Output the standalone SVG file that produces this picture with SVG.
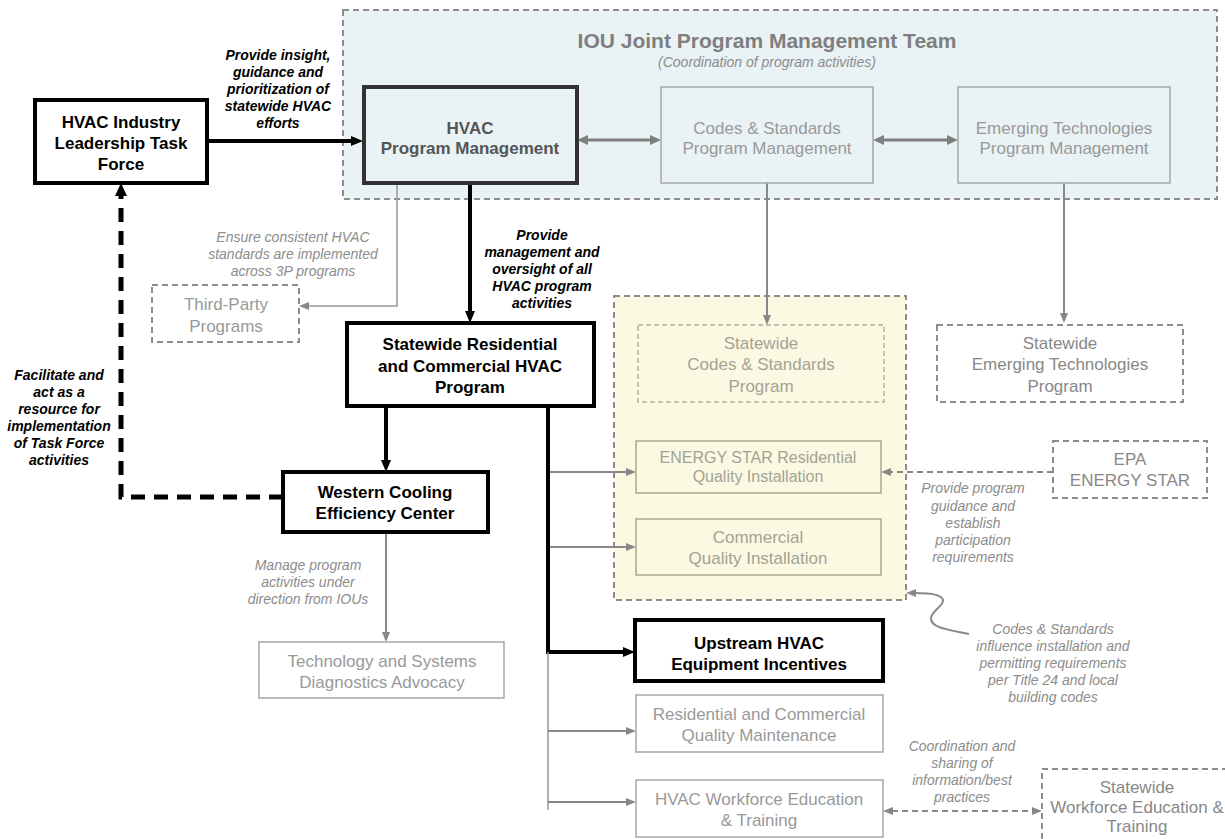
<svg xmlns="http://www.w3.org/2000/svg" width="1225" height="839" viewBox="0 0 1225 839">
<style>
  text { font-family: "Liberation Sans", Arial, sans-serif; text-anchor: middle; }
  .bold { font-weight: bold; font-size: 17px; fill: #000; }
  .hvacpm { font-weight: bold; font-size: 17px; fill: #555; }
  .gray { font-size: 17px; fill: #999; }
  .gray2 { font-size: 17px; fill: #888; }
  .olive { font-size: 17px; fill: #a3a394; }
  .olive16 { font-size: 16px; fill: #a3a394; }
  .lblb { font-weight: bold; font-style: italic; font-size: 14px; fill: #000; }
  .lblg { font-style: italic; font-size: 14px; fill: #8c8c8c; }
  .title { font-weight: bold; font-size: 21px; fill: #7f7f7f; }
  .sub { font-style: italic; font-size: 14px; fill: #8c8c8c; }
  .nodeB { fill: #fff; stroke: #000; stroke-width: 4; }
  .nodeG { fill: #fff; stroke: #a6a6a6; stroke-width: 1.5; }
  .nodeGD { fill: #fff; stroke: #8c8c8c; stroke-width: 2; stroke-dasharray: 6 4; }
  .panelBlue { fill: #e9f2f4; stroke: #8c8c8c; stroke-width: 2; stroke-dasharray: 6 4; }
  .panelYel { fill: #fcf9e3; stroke: #8c8c8c; stroke-width: 2; stroke-dasharray: 6 4; }
  .boxTop { fill: #e9f2f4; stroke: #a6a6a6; stroke-width: 1.5; }
  .boxYel { fill: #fcf9e3; stroke: #a8a890; stroke-width: 1.5; }
  .boxYelD { fill: #fcf9e3; stroke: #b0b09c; stroke-width: 1.5; stroke-dasharray: 5 3; }
  .cB { fill: none; stroke: #000; stroke-width: 4; }
  .cBD { fill: none; stroke: #000; stroke-width: 5; stroke-dasharray: 14 9; }
  .cG { fill: none; stroke: #888; stroke-width: 2; }
  .cGt { fill: none; stroke: #999; stroke-width: 1.5; }
  .cG3 { fill: none; stroke: #7f7f7f; stroke-width: 3; }
  .cGD { fill: none; stroke: #888; stroke-width: 2; stroke-dasharray: 6 4; }
</style>
<defs>
  <marker id="ahB" viewBox="0 0 12 10" markerWidth="12" markerHeight="10" refX="1" refY="5" orient="auto-start-reverse" markerUnits="userSpaceOnUse">
    <path d="M0,0 L12,5 L0,10 z" fill="#000"/>
  </marker>
  <marker id="ahG" viewBox="0 0 10 8" markerWidth="10" markerHeight="8" refX="1" refY="4" orient="auto-start-reverse" markerUnits="userSpaceOnUse">
    <path d="M0,0 L10,4 L0,8 z" fill="#888"/>
  </marker>
  <marker id="ahG3" viewBox="0 0 11 10" markerWidth="11" markerHeight="10" refX="1" refY="5" orient="auto-start-reverse" markerUnits="userSpaceOnUse">
    <path d="M0,0 L11,5 L0,10 z" fill="#7f7f7f"/>
  </marker>
</defs>

<!-- panels -->
<g id="panel-iou">
  <rect class="panelBlue" x="343" y="10" width="874" height="189"/>
  <text class="title" x="767" y="48">IOU Joint Program Management Team</text>
  <text class="sub" x="767" y="67">(Coordination of program activities)</text>
</g>
<g id="panel-cs">
  <rect class="panelYel" x="614" y="296" width="292" height="304"/>
</g>

<!-- connectors -->
<g id="connectors">
  <path class="cB" d="M207,141 H352" marker-end="url(#ahB)"/>
  <path class="cG3" d="M587,140 H651" marker-start="url(#ahG3)" marker-end="url(#ahG3)"/>
  <path class="cG3" d="M883,140 H948" marker-start="url(#ahG3)" marker-end="url(#ahG3)"/>
  <path class="cGt" d="M397,183 V306 H308" marker-end="url(#ahG)"/>
  <path class="cB" d="M470,183 V312" marker-end="url(#ahB)"/>
  <path class="cB" d="M386,406 V461" marker-end="url(#ahB)"/>
  <path class="cBD" d="M283,497 H121 V196" />
  <path d="M121,183 L115,196 L127,196 z" fill="#000"/>
  <path class="cG" d="M386,532 V633" marker-end="url(#ahG)"/>
  <path class="cB" d="M548,404 V652 H624" marker-end="url(#ahB)"/>
  <path class="cGt" d="M548,652 V810"/>
  <path class="cG" d="M550,472 H627" marker-end="url(#ahG)"/>
  <path class="cG" d="M550,547 H627" marker-end="url(#ahG)"/>
  <path class="cG" d="M548,731 H627" marker-end="url(#ahG)"/>
  <path class="cG" d="M548,802 H627" marker-end="url(#ahG)"/>
  <path class="cG" d="M767,183 V316" marker-end="url(#ahG)"/>
  <path class="cG" d="M1064,183 V314" marker-end="url(#ahG)"/>
  <path class="cGD" d="M1053,472 H890" marker-end="url(#ahG)"/>
  <path class="cG" d="M969,634 C950,630 930,628 931,618 C932,610 944,606 943,600 C942,595 930,593 915,593" marker-end="url(#ahG)"/>
  <path class="cGD" d="M892,811 H1033" marker-start="url(#ahG)" marker-end="url(#ahG)"/>
</g>

<!-- nodes -->
<g id="task-force">
  <rect class="nodeB" x="35" y="100" width="172" height="83"/>
  <text class="bold" x="121" y="128">HVAC Industry</text>
  <text class="bold" x="121" y="149">Leadership Task</text>
  <text class="bold" x="121" y="170">Force</text>
</g>
<g id="label-insight">
  <text class="lblb" x="278" y="60">Provide insight,</text>
  <text class="lblb" x="278" y="77">guidance and</text>
  <text class="lblb" x="278" y="94">prioritization of</text>
  <text class="lblb" x="278" y="111">statewide HVAC</text>
  <text class="lblb" x="278" y="128">efforts</text>
</g>
<g id="hvac-pm">
  <rect x="364" y="87" width="213" height="96" fill="#e9f2f4" stroke="#333" stroke-width="4"/>
  <text class="hvacpm" x="470" y="134">HVAC</text>
  <text class="hvacpm" x="470" y="154">Program Management</text>
</g>
<g id="cs-pm">
  <rect class="boxTop" x="661" y="87" width="212" height="96"/>
  <text class="gray" x="767" y="134">Codes &amp; Standards</text>
  <text class="gray" x="767" y="154">Program Management</text>
</g>
<g id="et-pm">
  <rect class="boxTop" x="958" y="87" width="212" height="96"/>
  <text class="gray" x="1064" y="134">Emerging Technologies</text>
  <text class="gray" x="1064" y="154">Program Management</text>
</g>
<g id="label-ensure">
  <text class="lblg" x="293" y="242">Ensure consistent HVAC</text>
  <text class="lblg" x="293" y="259">standards are implemented</text>
  <text class="lblg" x="293" y="276">across 3P programs</text>
</g>
<g id="third-party">
  <rect class="nodeGD" x="152" y="285" width="147" height="57"/>
  <text class="gray" x="226" y="310">Third-Party</text>
  <text class="gray" x="226" y="332">Programs</text>
</g>
<g id="label-oversight">
  <text class="lblb" x="542" y="240">Provide</text>
  <text class="lblb" x="542" y="257">management and</text>
  <text class="lblb" x="542" y="274">oversight of all</text>
  <text class="lblb" x="542" y="291">HVAC program</text>
  <text class="lblb" x="542" y="308">activities</text>
</g>
<g id="statewide-hvac">
  <rect class="nodeB" x="347" y="323" width="247" height="83"/>
  <text class="bold" x="470" y="350">Statewide Residential</text>
  <text class="bold" x="470" y="372">and Commercial HVAC</text>
  <text class="bold" x="470" y="393">Program</text>
</g>
<g id="label-facilitate">
  <text class="lblb" x="59" y="380">Facilitate and</text>
  <text class="lblb" x="59" y="397">act as a</text>
  <text class="lblb" x="59" y="414">resource for</text>
  <text class="lblb" x="59" y="431">implementation</text>
  <text class="lblb" x="59" y="448">of Task Force</text>
  <text class="lblb" x="59" y="465">activities</text>
</g>
<g id="wcec">
  <rect class="nodeB" x="283" y="472" width="205" height="60"/>
  <text class="bold" x="385" y="498">Western Cooling</text>
  <text class="bold" x="385" y="519">Efficiency Center</text>
</g>
<g id="label-manage">
  <text class="lblg" x="308" y="570">Manage program</text>
  <text class="lblg" x="308" y="587">activities under</text>
  <text class="lblg" x="308" y="604">direction from IOUs</text>
</g>
<g id="tech-diag">
  <rect class="nodeG" x="259" y="642" width="245" height="56"/>
  <text class="gray" x="382" y="667">Technology and Systems</text>
  <text class="gray" x="382" y="688">Diagnostics Advocacy</text>
</g>
<g id="statewide-cs">
  <rect class="boxYelD" x="638" y="325" width="246" height="77"/>
  <text class="olive" x="761" y="349">Statewide</text>
  <text class="olive" x="761" y="370">Codes &amp; Standards</text>
  <text class="olive" x="761" y="392">Program</text>
</g>
<g id="energy-star-qi">
  <rect class="boxYel" x="636" y="441" width="245" height="52"/>
  <text class="olive16" x="758" y="463">ENERGY STAR Residential</text>
  <text class="olive16" x="758" y="482">Quality Installation</text>
</g>
<g id="commercial-qi">
  <rect class="boxYel" x="636" y="519" width="245" height="56"/>
  <text class="olive" x="758" y="543">Commercial</text>
  <text class="olive" x="758" y="564">Quality Installation</text>
</g>
<g id="statewide-et">
  <rect class="nodeGD" x="937" y="325" width="246" height="77"/>
  <text class="gray2" x="1060" y="349">Statewide</text>
  <text class="gray2" x="1060" y="370">Emerging Technologies</text>
  <text class="gray2" x="1060" y="392">Program</text>
</g>
<g id="epa">
  <rect class="nodeGD" x="1053" y="441" width="154" height="57"/>
  <text class="gray2" x="1130" y="465">EPA</text>
  <text class="gray2" x="1130" y="486">ENERGY STAR</text>
</g>
<g id="label-guidance">
  <text class="lblg" x="973" y="493">Provide program</text>
  <text class="lblg" x="973" y="511">guidance and</text>
  <text class="lblg" x="973" y="528">establish</text>
  <text class="lblg" x="973" y="545">participation</text>
  <text class="lblg" x="973" y="562">requirements</text>
</g>
<g id="label-codes">
  <text class="lblg" x="1053" y="634">Codes &amp; Standards</text>
  <text class="lblg" x="1053" y="651">influence installation  and</text>
  <text class="lblg" x="1053" y="668">permitting requirements</text>
  <text class="lblg" x="1053" y="685">per Title 24 and local</text>
  <text class="lblg" x="1053" y="702">building codes</text>
</g>
<g id="upstream">
  <rect class="nodeB" x="635" y="620" width="248" height="61"/>
  <text class="bold" x="759" y="649">Upstream HVAC</text>
  <text class="bold" x="759" y="670">Equipment Incentives</text>
</g>
<g id="quality-maint">
  <rect class="nodeG" x="636" y="695" width="247" height="57"/>
  <text class="gray" x="759" y="720">Residential and Commercial</text>
  <text class="gray" x="759" y="741">Quality Maintenance</text>
</g>
<g id="workforce">
  <rect class="nodeG" x="636" y="780" width="247" height="57"/>
  <text class="gray" x="759" y="805">HVAC Workforce Education</text>
  <text class="gray" x="759" y="826">&amp; Training</text>
</g>
<g id="label-coord">
  <text class="lblg" x="962" y="751">Coordination and</text>
  <text class="lblg" x="962" y="768">sharing of</text>
  <text class="lblg" x="962" y="785">information/best</text>
  <text class="lblg" x="962" y="802">practices</text>
</g>
<g id="statewide-wf">
  <rect class="nodeGD" x="1042" y="769" width="200" height="100"/>
  <text class="gray2" x="1137" y="793">Statewide</text>
  <text class="gray2" x="1137" y="813">Workforce Education &amp;</text>
  <text class="gray2" x="1137" y="832">Training</text>
</g>
</svg>
